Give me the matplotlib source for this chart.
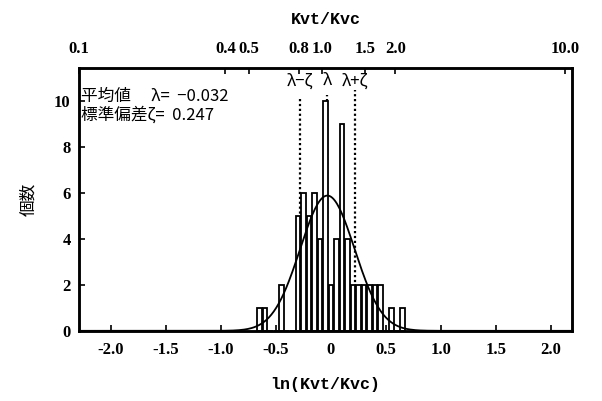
import numpy as np
import matplotlib
matplotlib.use("Agg")
import matplotlib.pyplot as plt

plt.rcParams['font.family'] = ['Liberation Serif', 'Noto Sans CJK JP', 'DejaVu Sans']

# histogram of ln(Kvt/Kvc), bin width 0.05
bin_centers = [-0.65, -0.60, -0.55, -0.50, -0.45, -0.40, -0.35, -0.30, -0.25,
               -0.20, -0.15, -0.10, -0.05, 0.00, 0.05, 0.10, 0.15, 0.20,
               0.25, 0.30, 0.35, 0.40, 0.45, 0.50, 0.55, 0.60, 0.65]
counts = [1, 1, 0, 0, 2, 0, 0, 5, 6,
          5, 6, 4, 10, 2, 4, 9, 4, 2,
          2, 2, 2, 2, 2, 0, 1, 0, 1]
bin_width = 0.05

lam = -0.032
zeta = 0.247

bottom_ticks = [-2.0, -1.5, -1.0, -0.5, 0, 0.5, 1.0, 1.5, 2.0]
bottom_labels = ['-2.0', '-1.5', '-1.0', '-0.5', '0', '0.5', '1.0', '1.5', '2.0']
top_values = [0.1, 0.4, 0.5, 0.8, 1.0, 1.5, 2.0, 10.0]
top_labels = ['0.1', '0.4', '0.5', '0.8', '1.0', '1.5', '2.0', '10.0']
y_ticks = [0, 2, 4, 6, 8, 10]

cjk = ['Noto Sans CJK JP', 'DejaVu Sans']

fig = plt.figure(figsize=(6.02, 4.01), dpi=100)
ax = fig.add_axes([0.131, 0.175, 0.819, 0.655])

# vertical dotted reference lines
for xv, top in [(lam - zeta, 10.2), (lam, 10.3), (lam + zeta, 10.5)]:
    ax.plot([xv, xv], [0, top], color='black', lw=1.6, ls=(0, (1, 1.2)), zorder=1)

ax.bar(bin_centers, counts, width=0.042, color='white', edgecolor='black',
       linewidth=1.3, zorder=2)

n_total = sum(counts)
xs = np.linspace(-2.3, 2.2, 400)
ys = n_total * bin_width / (zeta * np.sqrt(2 * np.pi)) * np.exp(-0.5 * ((xs - lam) / zeta) ** 2)
ax.plot(xs, ys, color='black', lw=1.3, zorder=3)

ax.set_xlim(-2.29, 2.19)
ax.set_ylim(0, 11.45)
ax.set_xticks(bottom_ticks)
ax.set_xticklabels(bottom_labels, fontweight='bold', fontsize=12)
ax.set_yticks(y_ticks)
ax.set_yticklabels([str(v) for v in y_ticks], fontweight='bold', fontsize=12)
ax.tick_params(axis='both', direction='in', length=4, width=1.2)
ax.tick_params(axis='x', pad=8)
ax.tick_params(axis='y', pad=6)
for s in ax.spines.values():
    s.set_linewidth(1.8)

ax.set_xlabel('ln(Kvt/Kvc)', fontsize=12, fontweight='bold', labelpad=14,
              family=['Liberation Mono', 'DejaVu Sans'])
ax.set_ylabel('個数', fontsize=12, labelpad=12, family=cjk)

top = ax.twiny()
top.set_xlim(-2.287, 2.364)
top.set_xticks(np.log(top_values))
top.set_xticklabels(top_labels, fontweight='bold', fontsize=12)
top.tick_params(axis='x', direction='in', length=4, width=1.2, pad=8)
top.set_xlabel('Kvt/Kvc', fontsize=12, fontweight='bold', labelpad=12,
               family=['Liberation Mono', 'DejaVu Sans'])
for s in top.spines.values():
    s.set_linewidth(1.8)

# line labels
for xv, lab in [(lam - zeta, 'λ−ζ'), (lam, 'λ'), (lam + zeta, 'λ+ζ')]:
    ax.text(xv, 10.9, lab, ha='center', va='center', fontsize=12, family=cjk)

ax.text(-2.27, 10.2, '平均値　 λ=  −0.032', ha='left', va='center', fontsize=12,
        family=cjk)
ax.text(-2.27, 9.42, '標準偏差ζ=  0.247', ha='left', va='center', fontsize=12,
        family=cjk)

fig.savefig('out.png', dpi=100)
